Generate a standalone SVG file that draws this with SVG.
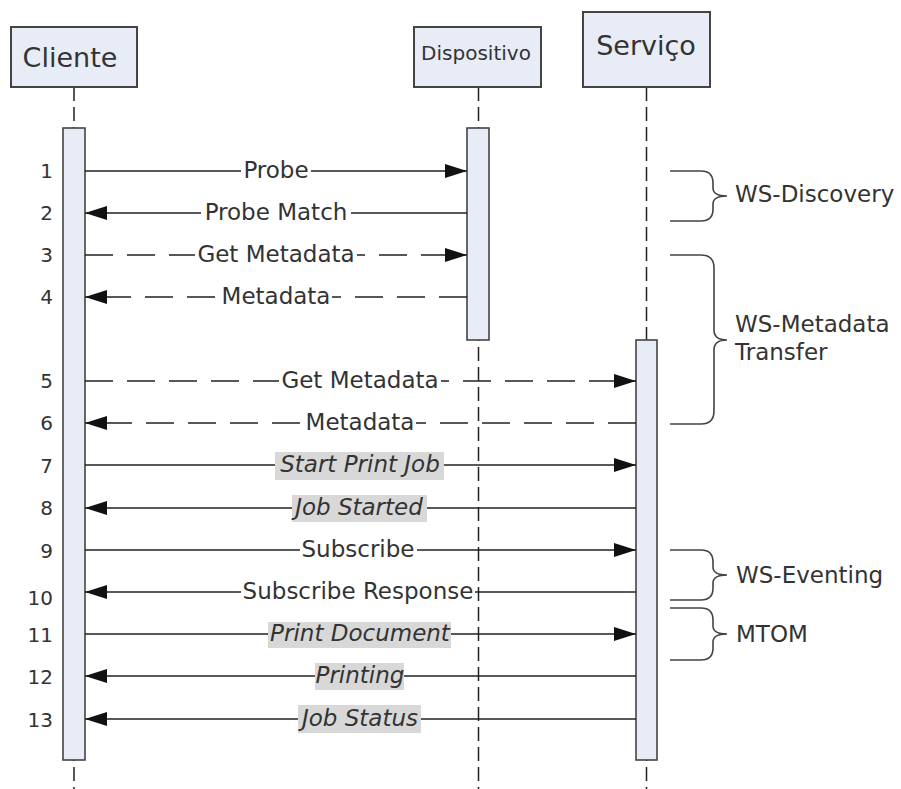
<svg xmlns="http://www.w3.org/2000/svg" width="901" height="789" viewBox="0 0 901 789">
<style>
text{font-family:"DejaVu Sans",Verdana,sans-serif;fill:#333}
.box{fill:#e8ecf6;stroke:#444;stroke-width:2}
.bar{fill:#e8ecf6;stroke:#444;stroke-width:1.6}
.life{stroke:#222;stroke-width:1.5;stroke-dasharray:14 6;fill:none}
.msg{stroke:#222;stroke-width:1.5;fill:none;marker-end:url(#ah)}
.dash{stroke-dasharray:28 14}
.lbl{font-size:23px;text-anchor:middle}
.it{font-style:italic}
.wb{fill:#fff}
.gb{fill:#d8d8d8}
.num{font-size:20px;text-anchor:end}
.brace{stroke:#444;stroke-width:1.6;fill:none}
.note{font-size:23px}
</style>
<defs>
<marker id="ah" markerUnits="userSpaceOnUse" markerWidth="22" markerHeight="14" refX="22" refY="7" orient="auto">
<path d="M0,0 L22,7 L0,14 z" fill="#111"/>
</marker>
</defs>

<g id="lifelines">
<line class="life" x1="74" y1="87" x2="74" y2="789"/>
<line class="life" x1="478.5" y1="87" x2="478.5" y2="789"/>
<line class="life" x1="646.5" y1="87" x2="646.5" y2="789"/>
</g>

<g id="cliente">
<rect class="box" x="11" y="27" width="126" height="60"/>
<text x="70" y="67" style="font-size:27px;text-anchor:middle">Cliente</text>
<rect class="bar" x="63" y="128" width="22" height="632"/>
</g>
<g id="dispositivo">
<rect class="box" x="414" y="27" width="127" height="60"/>
<text x="476" y="60" style="font-size:20px;text-anchor:middle">Dispositivo</text>
<rect class="bar" x="467" y="128" width="22" height="212"/>
</g>
<g id="servico">
<rect class="box" x="583" y="12" width="127" height="75"/>
<text x="646" y="55" style="font-size:27px;text-anchor:middle">Serviço</text>
<rect class="bar" x="636" y="340" width="21" height="420"/>
</g>

<g id="connectors">
<line class="msg" x1="85" y1="171" x2="467" y2="171"/>
<line class="msg" x1="467" y1="213" x2="85" y2="213"/>
<line class="msg dash" x1="85" y1="255" x2="467" y2="255"/>
<line class="msg dash" x1="467" y1="297" x2="85" y2="297"/>
<line class="msg dash" x1="85" y1="381" x2="636" y2="381"/>
<line class="msg dash" x1="636" y1="423" x2="85" y2="423"/>
<line class="msg" x1="85" y1="465" x2="636" y2="465"/>
<line class="msg" x1="636" y1="508" x2="85" y2="508"/>
<line class="msg" x1="85" y1="550" x2="636" y2="550"/>
<line class="msg" x1="636" y1="592" x2="85" y2="592"/>
<line class="msg" x1="85" y1="634" x2="636" y2="634"/>
<line class="msg" x1="636" y1="676" x2="85" y2="676"/>
<line class="msg" x1="636" y1="719" x2="85" y2="719"/>
</g>

<g id="labels">
<rect class="wb" x="241" y="161" width="70" height="20"/>
<text class="lbl" x="276" y="178">Probe</text>
<rect class="wb" x="201" y="203" width="150" height="20"/>
<text class="lbl" x="276" y="220">Probe Match</text>
<rect class="wb" x="195" y="245" width="162" height="20"/>
<text class="lbl" x="276" y="262">Get Metadata</text>
<rect class="wb" x="220" y="287" width="112" height="20"/>
<text class="lbl" x="276" y="304">Metadata</text>
<rect class="wb" x="279" y="371" width="162" height="20"/>
<text class="lbl" x="360" y="388">Get Metadata</text>
<rect class="wb" x="304" y="413" width="112" height="20"/>
<text class="lbl" x="360" y="430">Metadata</text>
<rect class="gb" x="275" y="452" width="169" height="28"/>
<text class="lbl it" x="360" y="472">Start Print Job</text>
<rect class="gb" x="292" y="495" width="135" height="27"/>
<text class="lbl it" x="359" y="515">Job Started</text>
<rect class="wb" x="300" y="540" width="117" height="20"/>
<text class="lbl" x="358" y="557">Subscribe</text>
<rect class="wb" x="241" y="582" width="234" height="20"/>
<text class="lbl" x="358" y="599">Subscribe Response</text>
<rect class="gb" x="268" y="622" width="183" height="26"/>
<text class="lbl it" x="360" y="641">Print Document</text>
<rect class="gb" x="315" y="663" width="89" height="27"/>
<text class="lbl it" x="360" y="683">Printing</text>
<rect class="gb" x="298" y="705" width="123" height="28"/>
<text class="lbl it" x="360" y="726">Job Status</text>
</g>

<g id="numbers">
<text class="num" x="53" y="178">1</text>
<text class="num" x="53" y="220">2</text>
<text class="num" x="53" y="262">3</text>
<text class="num" x="53" y="304">4</text>
<text class="num" x="53" y="388">5</text>
<text class="num" x="53" y="430">6</text>
<text class="num" x="53" y="473">7</text>
<text class="num" x="53" y="515">8</text>
<text class="num" x="53" y="558">9</text>
<text class="num" x="53" y="605">10</text>
<text class="num" x="53" y="642">11</text>
<text class="num" x="53" y="684">12</text>
<text class="num" x="53" y="727">13</text>
</g>

<g id="ws-discovery">
<path class="brace" d="M670 171 H701 Q713 171 713 183 V188 Q713 196 727 196 Q713 196 713 204 V209 Q713 221 701 221 H670"/>
<text class="note" x="735" y="202">WS-Discovery</text>
</g>
<g id="ws-metadata">
<path class="brace" d="M670 255 H701 Q714 255 714 268 V330 Q714 340 727 340 Q714 340 714 350 V411 Q714 424 701 424 H670"/>
<text class="note" x="735" y="332">WS-Metadata</text>
<text class="note" x="735" y="360">Transfer</text>
</g>
<g id="ws-eventing">
<path class="brace" d="M670 550 H701 Q713 550 713 562 V567 Q713 575 727 575 Q713 575 713 583 V588 Q713 600 701 600 H670"/>
<text class="note" x="736" y="583">WS-Eventing</text>
</g>
<g id="mtom">
<path class="brace" d="M670 608 H701 Q713 608 713 620 V626 Q713 634 727 634 Q713 634 713 642 V648 Q713 660 701 660 H670"/>
<text class="note" x="736" y="642">MTOM</text>
</g>
</svg>
